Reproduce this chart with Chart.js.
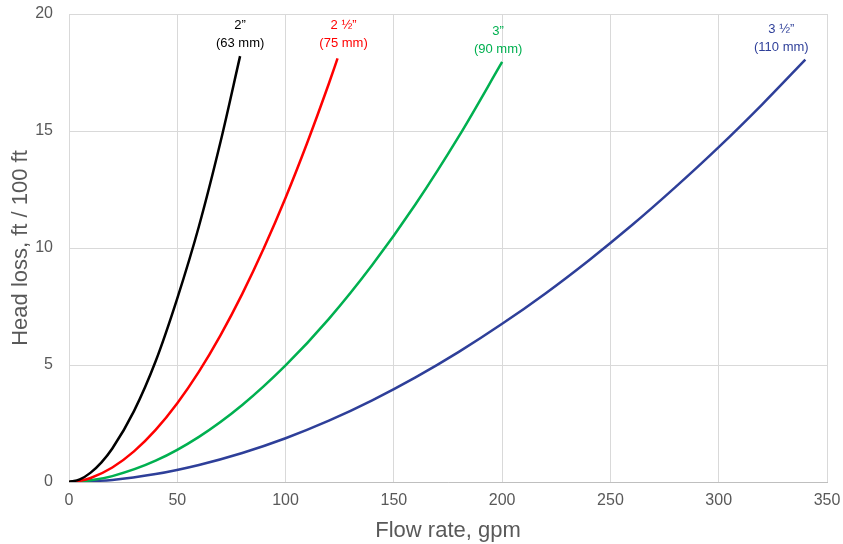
<!DOCTYPE html>
<html>
<head>
<meta charset="utf-8">
<script src="https://cdn.jsdelivr.net/npm/chart.js@4/dist/chart.umd.min.js"></script>
<style>
html,body{margin:0;padding:0;background:#fff;}
#wrap{width:843px;height:544px;position:relative;}
</style>
</head>
<body>
<div id="wrap"><canvas id="c"></canvas></div>
<script>
// Flow rate (gpm) and head loss (ft / 100 ft)
const flow2 = [0, 5, 10, 15, 20, 30, 40, 50, 60, 70, 79];
const loss2 = [0, 0.11, 0.40, 0.84, 1.43, 3.03, 5.16, 7.85, 10.93, 14.55, 18.2];

const flow25 = [0, 5, 10, 20, 30, 40, 50, 60, 70, 80, 90, 100, 110, 120, 124];
const loss25 = [0, 0.05, 0.17, 0.62, 1.31, 2.23, 3.37, 4.72, 6.28, 8.04, 10.0, 12.15, 14.5, 17.03, 18.1];

const flow3 = [0, 10, 20, 40, 60, 80, 100, 120, 140, 160, 180, 200];
const loss3 = [0, 0.07, 0.25, 0.91, 1.93, 3.29, 4.98, 6.97, 9.27, 11.87, 14.77, 17.95];

const flow35 = [0, 20, 40, 60, 80, 100, 120, 140, 160, 180, 200, 220, 240, 260, 280, 300, 320, 340];
const loss35 = [0, 0.09, 0.34, 0.73, 1.24, 1.87, 2.62, 3.49, 4.47, 5.56, 6.76, 8.06, 9.47, 10.98, 12.6, 14.31, 16.13, 18.05];

const seriesNames = ['2”', '2 ½”', '3”', '3 ½”'];
const seriesSizes = ['(63 mm)', '(75 mm)', '(90 mm)', '(110 mm)'];
const xTicks = [0, 50, 100, 150, 200, 250, 300, 350];
const yTicks = [0, 5, 10, 15, 20];

const colors = ['#000000', '#ff0000', '#00b050', '#2e3f99'];
// label offsets in pixels from each curve's end point
const labelOffsets = [[0, -31], [6, -33], [-4, -31], [-24, -30]];

function pts(xs, ys){ return xs.map((x,i)=>({x:x, y:ys[i]})); }
const allData = [pts(flow2,loss2), pts(flow25,loss25), pts(flow3,loss3), pts(flow35,loss35)];

const FONT = '"Liberation Sans", Arial, sans-serif';

const labelPlugin = {
  id: 'curveLabels',
  afterDatasetsDraw(chart){
    const ctx = chart.ctx;
    const xs = chart.scales.x, ys = chart.scales.y;
    ctx.save();
    ctx.font = '13px ' + FONT;
    ctx.textAlign = 'center';
    ctx.textBaseline = 'middle';
    chart.data.datasets.forEach((ds, i)=>{
      const last = ds.data[ds.data.length-1];
      const px = xs.getPixelForValue(last.x) + labelOffsets[i][0];
      const py = ys.getPixelForValue(last.y) + labelOffsets[i][1];
      ctx.fillStyle = colors[i];
      ctx.fillText(seriesNames[i], px, py);
      ctx.fillText(seriesSizes[i], px, py + 18);
    });
    ctx.restore();
  }
};

new Chart(document.getElementById('c'), {
  type: 'scatter',
  data: {
    datasets: allData.map((d,i)=>({
      label: seriesNames[i] + ' ' + seriesSizes[i],
      data: d,
      showLine: true,
      borderColor: colors[i],
      backgroundColor: colors[i],
      borderWidth: 2.5,
      pointRadius: 0,
      cubicInterpolationMode: 'monotone'
    }))
  },
  options: {
    responsive: true,
    maintainAspectRatio: false,
    animation: false,
    layout: { padding: { top: 14, right: 16, left: 0, bottom: 0 } },
    plugins: { legend: { display: false }, tooltip: { enabled: false } },
    scales: {
      x: {
        type: 'linear', min: 0, max: 350,
        afterBuildTicks(s){ s.ticks = xTicks.map(v=>({value:v})); },
        afterFit(s){ s.height = 62; s.paddingLeft = 0; s.paddingRight = 0; },
        grid: { color: '#d9d9d9', lineWidth: 1, drawTicks: false },
        border: { color: '#bfbfbf', width: 1 },
        ticks: { padding: 9, color: '#595959', font: { family: FONT, size: 16 } },
        title: { display: true, text: 'Flow rate, gpm', color: '#595959', padding: { top: 0, bottom: 0 },
                 font: { family: FONT, size: 22 } }
      },
      y: {
        type: 'linear', min: 0, max: 20,
        afterBuildTicks(s){ s.ticks = yTicks.map(v=>({value:v})); },
        afterFit(s){ s.width = 69; s.paddingTop = 0; s.paddingBottom = 0; },
        grid: { color: '#d9d9d9', lineWidth: 1, drawTicks: false },
        border: { display: false },
        ticks: { padding: 16, color: '#595959', font: { family: FONT, size: 16 } },
        title: { display: true, text: 'Head loss, ft / 100 ft', color: '#595959', padding: { top: 8, bottom: 0 },
                 font: { family: FONT, size: 22 } }
      }
    }
  },
  plugins: [labelPlugin]
});
</script>
</body>
</html>
